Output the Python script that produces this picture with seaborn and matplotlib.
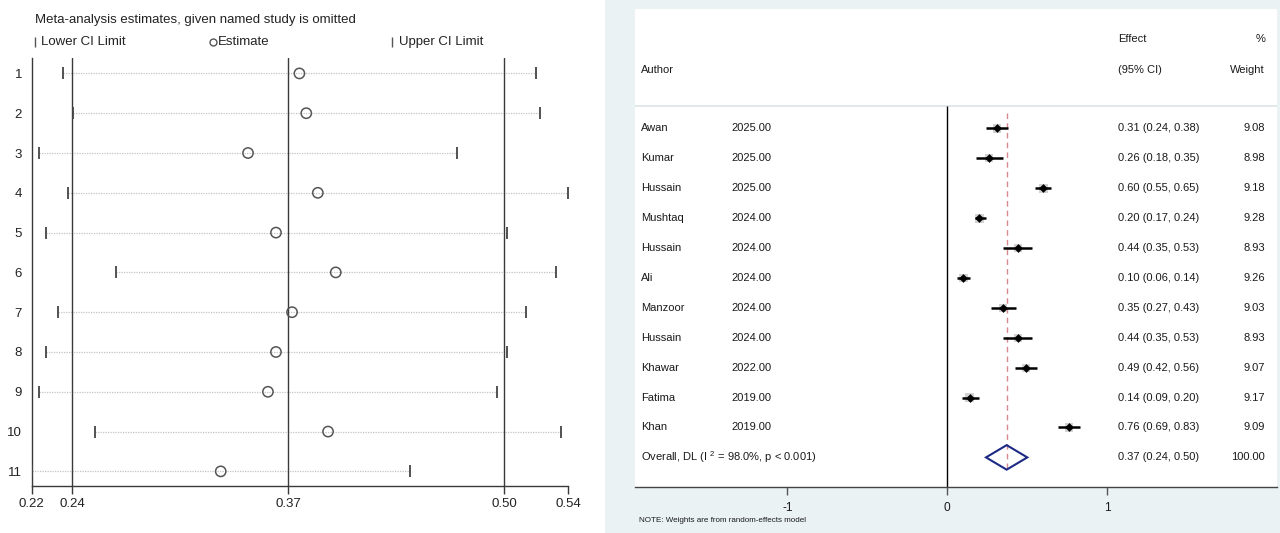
import numpy as np
import pandas as pd
import matplotlib
matplotlib.use("Agg")
import matplotlib.pyplot as plt
from matplotlib.patches import Rectangle, Polygon
from matplotlib.lines import Line2D
from matplotlib import font_manager
import seaborn as sns

# ---- leave-one-out sensitivity analysis (study omitted -> pooled estimate) ----
omit_rows = list(range(1, 12))
omit_lower = [0.2367, 0.2425, 0.2223, 0.2395, 0.2264, 0.2679, 0.2336, 0.2264, 0.2219, 0.2557, 0.2178]
omit_est = [0.3777, 0.3818, 0.3470, 0.3887, 0.3637, 0.3994, 0.3733, 0.3637, 0.3589, 0.3948, 0.3307]
omit_upper = [0.5188, 0.5211, 0.4721, 0.5383, 0.5014, 0.5309, 0.5131, 0.5014, 0.4955, 0.5339, 0.4440]

# ---- pooled random-effects (DerSimonian-Laird) estimate ----
pooled_est = 0.371
pooled_lo = 0.242
pooled_hi = 0.500
i_squared = 98.0

# ---- individual studies ----
authors = ["Awan", "Kumar", "Hussain", "Mushtaq", "Hussain", "Ali",
           "Manzoor", "Hussain", "Khawar", "Fatima", "Khan"]
years = [2025, 2025, 2025, 2024, 2024, 2024, 2024, 2024, 2022, 2019, 2019]
effects = [0.31, 0.26, 0.60, 0.20, 0.44, 0.10, 0.35, 0.44, 0.49, 0.14, 0.76]
ci_low = [0.24, 0.18, 0.55, 0.17, 0.35, 0.06, 0.27, 0.35, 0.42, 0.09, 0.69]
ci_high = [0.38, 0.35, 0.65, 0.24, 0.53, 0.14, 0.43, 0.53, 0.56, 0.20, 0.83]
weights = [9.08, 8.98, 9.18, 9.28, 8.93, 9.26, 9.03, 8.93, 9.07, 9.17, 9.09]
forest_ticks = [-1, 0, 1]

sns.set_theme(style="white")
available = {f.name for f in font_manager.fontManager.ttflist}
base_font = "Liberation Sans Narrow" if "Liberation Sans Narrow" in available else "Liberation Sans"
plt.rcParams["font.family"] = [base_font, "DejaVu Sans"]
plt.rcParams["mathtext.default"] = "regular"

W, H = 1280, 533
fig = plt.figure(figsize=(W / 100, H / 100), dpi=100)
fig.patch.set_facecolor("white")

# light graph region behind the forest plot
fig.patches.append(Rectangle((605 / W, 0), 1 - 605 / W, 1, transform=fig.transFigure,
                             facecolor="#EAF2F3", edgecolor="none", zorder=-10))

# =========================== influence plot ===========================
axL = fig.add_axes([31.7 / W, (H - 485.7) / H, (568.3 - 31.7) / W, (485.7 - 58.3) / H])
axL.set_facecolor("white")
inf = pd.DataFrame({"row": omit_rows, "lower": omit_lower,
                    "est": omit_est, "upper": omit_upper})

axL.hlines(inf["row"], inf["lower"], inf["upper"], colors="#c4c4c4",
           linestyles=(0, (1, 1)), lw=0.9, zorder=1)
for ref in (pooled_lo, pooled_est, pooled_hi):
    axL.axvline(ref, color="#3a3a3a", lw=1.0, zorder=2)

sns.scatterplot(data=inf, x="lower", y="row", marker="|", s=70, color="#444444",
                linewidth=1.3, ax=axL, zorder=3, legend=False)
sns.scatterplot(data=inf, x="upper", y="row", marker="|", s=70, color="#444444",
                linewidth=1.3, ax=axL, zorder=3, legend=False)
sns.scatterplot(data=inf, x="est", y="row", marker="o", s=55, color="#555555",
                linewidth=1.1, ax=axL, zorder=4, legend=False)
axL.collections[-1].set_facecolor("none")
axL.collections[-1].set_edgecolor("#555555")

xmin, xmax = min(omit_lower), max(omit_upper)
axL.set_xlim(xmin, xmax)
axL.set_ylim(11.36, 0.62)
xt = [xmin, pooled_lo, pooled_est, pooled_hi, xmax]
axL.set_xticks(xt)
axL.set_xticklabels([f"{v:.2f}" for v in xt])
axL.set_yticks(omit_rows)
axL.set_yticklabels([str(r) for r in omit_rows])
axL.set_xlabel("")
axL.set_ylabel("")
lfs = 9.5
axL.tick_params(axis="x", direction="out", length=5.5, width=1, color="#3a3a3a",
                pad=3, labelsize=lfs, labelcolor="#222222", bottom=True)
axL.tick_params(axis="y", length=0, pad=7, labelsize=lfs, labelcolor="#222222")
for side in ("top", "right"):
    axL.spines[side].set_visible(False)
for side in ("left", "bottom"):
    axL.spines[side].set_color("#3a3a3a")
    axL.spines[side].set_linewidth(1.0)

fig.text(35 / W, 1 - 20 / H, "Meta-analysis estimates, given named study is omitted",
         ha="left", va="center", fontsize=lfs, color="#222222")
legend_y = 1 - 42 / H
for mx, mk, tx, label in [(35, "|", 41, "Lower CI Limit"),
                          (213, "o", 218, "Estimate"),
                          (392, "|", 399, "Upper CI Limit")]:
    fig.add_artist(Line2D([mx / W], [legend_y], transform=fig.transFigure, marker=mk,
                          ms=5 if mk == "o" else 7, mfc="none", mec="#555555",
                          mew=1.0, ls="none"))
    fig.text(tx / W, legend_y, label, ha="left", va="center", fontsize=lfs, color="#222222")

# ============================= forest plot =============================
x0_px, unit_px = 947.3, 160.0
row0_px, row_px = 128.5, 29.9
left_px, right_px, top_px, bot_px = 635, 1277, 9, 486.7
axR = fig.add_axes([left_px / W, (H - bot_px) / H, (right_px - left_px) / W, (bot_px - top_px) / H])
axR.set_facecolor("white")
axR.set_xlim((left_px - x0_px) / unit_px, (right_px - x0_px) / unit_px)
axR.set_ylim((bot_px - row0_px) / row_px, (top_px - row0_px) / row_px)

def yrow(px):
    return (px - row0_px) / row_px

k = np.arange(len(authors))
forest = pd.DataFrame({"k": k, "es": effects, "lo": ci_low, "hi": ci_high, "w": weights})
overall_k = len(authors)

sep_y = yrow(106)
axR.axhline(sep_y, color="#dfe5e7", lw=1.3, zorder=1)
axR.vlines(0, sep_y, axR.get_ylim()[0], colors="black", lw=1.0, zorder=2)
axR.vlines(pooled_est, yrow(113), overall_k + 0.42, colors="#d98890",
           linestyles=(0, (4, 3)), lw=1.0, zorder=2)

sns.scatterplot(data=forest, x="es", y="k", size="w", sizes=(34, 40), marker="s",
                color="#d2d2d2", linewidth=0, ax=axR, zorder=3, legend=False)
axR.hlines(forest["k"], forest["lo"], forest["hi"], colors="black", lw=1.8, zorder=4)
sns.scatterplot(data=forest, x="es", y="k", marker="D", s=20, color="black",
                linewidth=0, ax=axR, zorder=5, legend=False)

half_h = 0.41
axR.add_patch(Polygon([(pooled_lo, overall_k), (pooled_est, overall_k - half_h),
                       (pooled_hi, overall_k), (pooled_est, overall_k + half_h)],
                      closed=True, facecolor="none", edgecolor="#1c2a86", lw=1.5, zorder=6))

x_author = (641.3 - x0_px) / unit_px
x_year = (731.6 - x0_px) / unit_px
x_effect = (1118 - x0_px) / unit_px
x_weight = (1265 - x0_px) / unit_px
fs = 8.0
tc = "#1a1a1a"
axR.text(x_effect, yrow(39), "Effect", ha="left", va="center", fontsize=fs, color=tc)
axR.text(x_weight, yrow(39), "%", ha="right", va="center", fontsize=fs, color=tc)
axR.text(x_author, yrow(70), "Author", ha="left", va="center", fontsize=fs, color=tc)
axR.text(x_effect, yrow(70), "(95% CI)", ha="left", va="center", fontsize=fs, color=tc)
axR.text(x_weight, yrow(70), "Weight", ha="right", va="center", fontsize=fs, color=tc)

for i in range(len(authors)):
    axR.text(x_author, i, authors[i], ha="left", va="center", fontsize=fs, color=tc)
    axR.text(x_year, i, f"{years[i]:.2f}", ha="left", va="center", fontsize=fs, color=tc)
    axR.text(x_effect, i, f"{effects[i]:.2f} ({ci_low[i]:.2f}, {ci_high[i]:.2f})",
             ha="left", va="center", fontsize=fs, color=tc)
    axR.text(x_weight, i, f"{weights[i]:.2f}", ha="right", va="center", fontsize=fs, color=tc)

axR.text(x_author, overall_k, f"Overall, DL (I $^{{2}}$ = {i_squared:.1f}%, p < 0.001)",
         ha="left", va="center", fontsize=fs, color=tc)
axR.text(x_effect, overall_k, f"{pooled_est:.2f} ({pooled_lo:.2f}, {pooled_hi:.2f})",
         ha="left", va="center", fontsize=fs, color=tc)
axR.text(x_weight, overall_k, f"{sum(weights):.2f}", ha="right", va="center",
         fontsize=fs, color=tc)

axR.set_xticks(forest_ticks)
axR.set_xticklabels([str(t) for t in forest_ticks])
axR.set_yticks([])
axR.set_xlabel("")
axR.set_ylabel("")
axR.tick_params(axis="x", direction="out", length=6, width=1, color="#555555",
                pad=5, labelsize=8.6, labelcolor=tc, bottom=True)
for side in ("top", "right", "left"):
    axR.spines[side].set_visible(False)
axR.spines["bottom"].set_color("#444444")
axR.spines["bottom"].set_linewidth(1.0)

fig.text(639 / W, 1 - 521 / H, "NOTE: Weights are from random-effects model",
         ha="left", va="center", fontsize=5.8, color=tc)

fig.savefig("out.png", dpi=100, facecolor=fig.get_facecolor())
